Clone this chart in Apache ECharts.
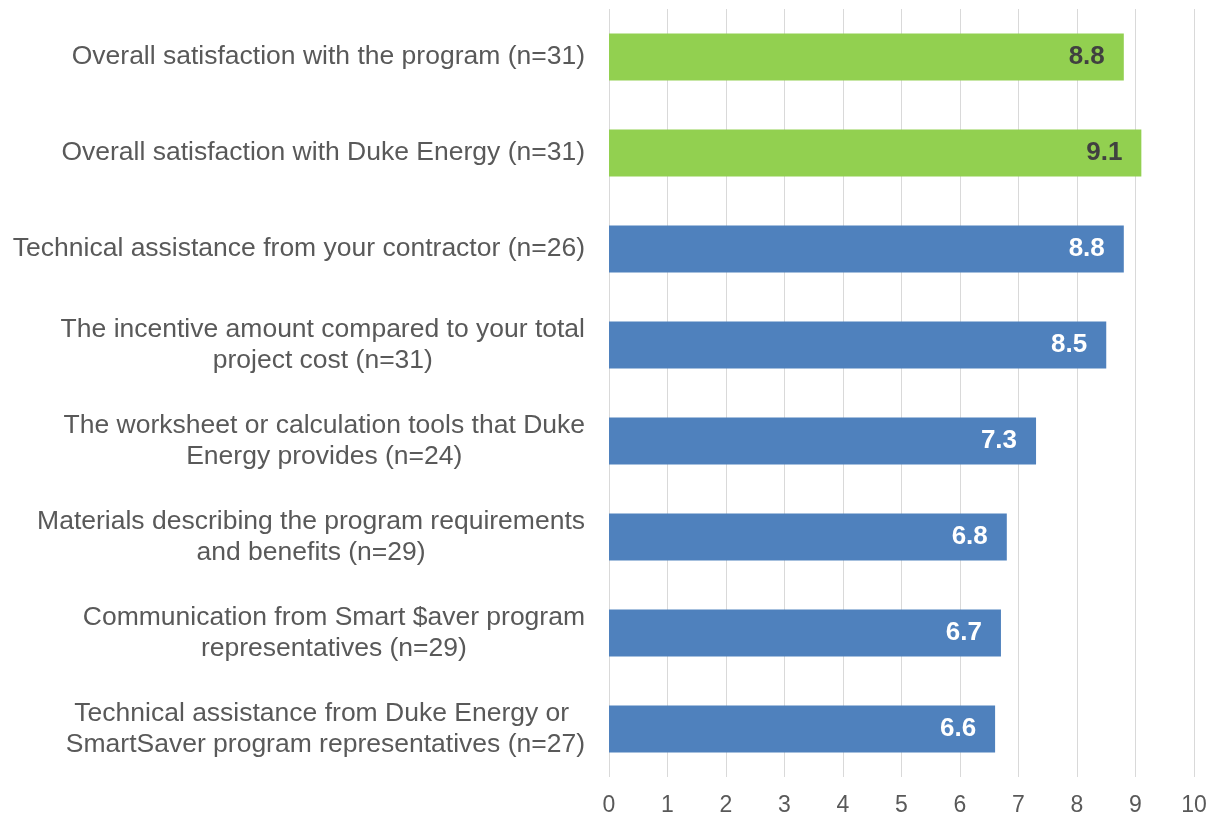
<!DOCTYPE html>
<html>
<head>
	<meta charset="UTF-8">
	<title>Satisfaction ratings</title>
	<script src="https://cdn.jsdelivr.net/npm/echarts@6/dist/echarts.min.js"></script>
	<style>
		html, body { margin:0; padding:0; background:#fff; }
		#chart { width:1217px; height:821px; }
	</style>
</head>
<body>
	<div id="chart"></div>

	<script type="text/javascript">
		var categories = [
			'Overall satisfaction with the program (n=31)',
			'Overall satisfaction with Duke Energy (n=31)',
			'Technical assistance from your contractor (n=26)',
			'The incentive amount compared to your total\nproject cost (n=31)',
			'The worksheet or calculation tools that Duke\nEnergy provides (n=24)',
			'Materials describing the program requirements\nand benefits (n=29)',
			'Communication from Smart $aver program\nrepresentatives (n=29)',
			'Technical assistance from Duke Energy or \nSmartSaver program representatives (n=27)'
		];
		var scores = [8.8, 9.1, 8.8, 8.5, 7.3, 6.8, 6.7, 6.6];
		// first two rows are the overall ratings (green)
		var isOverall = [true, true, false, false, false, false, false, false];
		var xTicks = [0, 1, 2, 3, 4, 5, 6, 7, 8, 9, 10];

		var chart = echarts.init(document.getElementById('chart'));

		var barData = scores.map(function (v, i) {
			return {
				value: v,
				itemStyle: { color: isOverall[i] ? '#92D050' : '#4F81BD' },
				label: { color: isOverall[i] ? '#404040' : '#ffffff' }
			};
		});

		var option = {
			animation: false,
			grid: { left: 609, right: 23, top: 9, bottom: 44, containLabel: false },
			xAxis: {
				type: 'value',
				min: xTicks[0],
				max: xTicks[xTicks.length - 1],
				interval: 1,
				axisLine: { show: false },
				axisTick: { show: false },
				splitLine: { show: true, lineStyle: { color: '#D9D9D9', width: 1 } },
				axisLabel: {
					margin: 17,
					fontFamily: 'Liberation Sans, Arial',
					fontSize: 23,
					color: '#595959'
				}
			},
			yAxis: {
				type: 'category',
				data: categories,
				inverse: true,
				axisLine: { show: false },
				axisTick: { show: false },
				axisLabel: {
					margin: 24,
					fontFamily: 'Liberation Sans, Arial',
					fontSize: 26.5,
					color: '#595959',
					formatter: function (val) {
						return val.split('\n').map(function (s) { return '{c|' + s + '}'; }).join('\n');
					},
					rich: {
						c: {
							align: 'center',
							fontFamily: 'Liberation Sans, Arial',
							fontSize: 26.5,
							lineHeight: 31,
							color: '#595959'
						}
					}
				}
			},
			series: [{
				type: 'bar',
				data: barData,
				barWidth: 47,
				label: {
					show: true,
					position: 'insideRight',
					distance: 19,
					fontFamily: 'Liberation Sans, Arial',
					fontSize: 26,
					fontWeight: 'bold',
					formatter: function (p) { return p.value.toFixed(1); }
				}
			}]
		};

		chart.setOption(option);
	</script>
</body>
</html>
